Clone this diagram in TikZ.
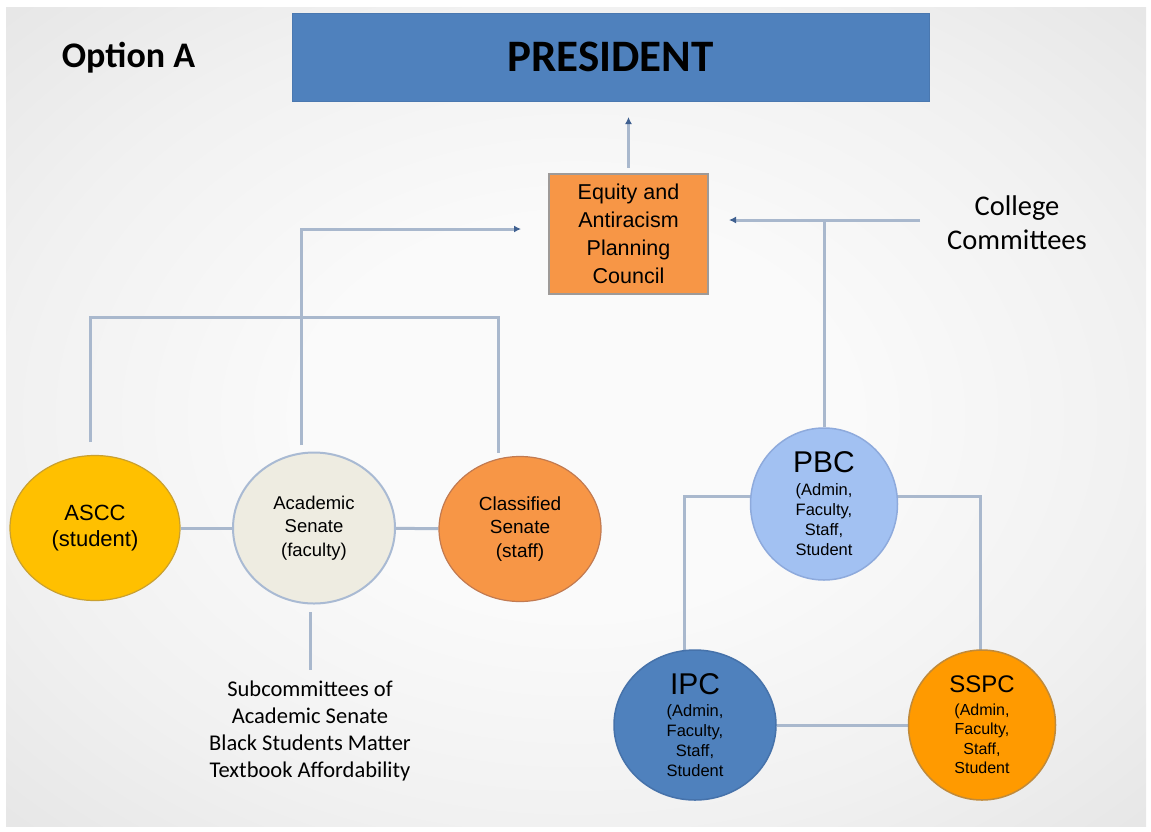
\documentclass[tikz,border=0pt]{standalone}
\usepackage{fontspec}
\setmainfont{Liberation Sans}
\newfontfamily\calibri{Carlito}
\usetikzlibrary{shapes.geometric,arrows.meta}

\definecolor{presblue}{HTML}{4F81BD}
\definecolor{presedge}{HTML}{4A78B0}
\definecolor{eapcfill}{HTML}{F79646}
\definecolor{boxedge}{HTML}{9E9A98}
\definecolor{asccfill}{HTML}{FFC000}
\definecolor{asccedge}{HTML}{C9A030}
\definecolor{acadfill}{HTML}{EEECE1}
\definecolor{acadedge}{HTML}{A9BAD3}
\definecolor{clsedge}{HTML}{C27A50}
\definecolor{pbcfill}{HTML}{A2C1F2}
\definecolor{pbcedge}{HTML}{8EAADC}
\definecolor{ipcedge}{HTML}{4672AA}
\definecolor{sspcfill}{HTML}{FF9A00}
\definecolor{sspcedge}{HTML}{C08A3A}
\definecolor{linecol}{HTML}{A9B8CD}
\definecolor{tipcol}{HTML}{3F6090}
\definecolor{bgin}{HTML}{FAFAFA}
\definecolor{bgmid}{HTML}{F1F1F1}
\definecolor{bgout}{HTML}{E6E6E6}

\pgfdeclareradialshading{paper}{\pgfpoint{0bp}{0bp}}{%
  color(0bp)=(bgin); color(12bp)=(bgin); color(25bp)=(bgmid);
  color(36bp)=(bgout); color(50bp)=(bgout)}

\pgfdeclarelayer{back}
\pgfdeclarelayer{wires}
\pgfsetlayers{back,wires,main}

\tikzset{
  conn/.style={draw=linecol, line width=3pt},
  arr/.style={conn, -{Latex[length=7pt,width=7pt,color=tipcol]}},
  unit/.style={ellipse, inner sep=0pt, align=center, text=black},
  plain/.style={inner sep=0pt, align=center, text=black},
}

\begin{document}
\begin{tikzpicture}[x=1pt,y=-1pt]
\useasboundingbox (0,0) rectangle (1151,831);

% boxes
\node[fill=presblue, draw=presedge, line width=1pt, minimum width=637pt,
      minimum height=88pt, inner sep=0pt,
      font=\calibri\bfseries\fontsize{45}{45}\selectfont] (pres) at (610.5,57) {PRESIDENT};
\node[plain, anchor=base, font=\calibri\bfseries\fontsize{36}{36}\selectfont]
      (opt) at (128.5,67) {Option A};
\node[fill=eapcfill, draw=boxedge, line width=2.5pt, minimum width=159pt,
      minimum height=120pt, inner sep=0pt, align=center,
      font=\fontsize{21.5}{28}\selectfont] (eapc) at (628.5,234)
      {Equity and\\Antiracism\\Planning\\Council};
\node[plain, font=\calibri\fontsize{28.5}{34}\selectfont] (college) at (1017,223)
      {College\\Committees};

% senates
\node[unit, fill=asccfill, draw=asccedge, line width=1.2pt, minimum width=170pt,
      minimum height=145pt, font=\fontsize{22}{26}\selectfont] (ascc) at (95,528)
      {ASCC\\(student)};
\node[unit, fill=acadfill, draw=acadedge, line width=2pt, minimum width=162pt,
      minimum height=151pt, font=\fontsize{18.5}{23.5}\selectfont] (acad) at (314,528)
      {Academic\\Senate\\(faculty)};
\node[unit, fill=eapcfill, draw=clsedge, line width=1.2pt, minimum width=162pt,
      minimum height=145pt, font=\fontsize{19}{23.5}\selectfont] (cls) at (520,529)
      {Classified\\Senate\\(staff)};
\node[plain, font=\calibri\fontsize{22.5}{27}\selectfont] (subs) at (310,731)
      {Subcommittees of\\Academic Senate\\Black Students Matter\\Textbook Affordability};

% planning committees
\node[unit, fill=pbcfill, draw=pbcedge, line width=1.5pt, minimum width=147pt,
      minimum height=152pt, font=\fontsize{16.5}{20}\selectfont] (pbc) at (824,504)
      {{\fontsize{30}{30}\selectfont PBC}\\[3pt](Admin,\\Faculty,\\Staff,\\Student};
\node[unit, fill=presblue, draw=ipcedge, line width=1.5pt, minimum width=162pt,
      minimum height=150pt, font=\fontsize{16.5}{20}\selectfont] (ipc) at (695,725)
      {{\fontsize{30}{30}\selectfont IPC}\\[2pt](Admin,\\Faculty,\\Staff,\\Student};
\node[unit, fill=sspcfill, draw=sspcedge, line width=1.5pt, minimum width=147pt,
      minimum height=150pt, font=\fontsize{16}{19.5}\selectfont] (sspc) at (982,725)
      {{\fontsize{24}{24}\selectfont SSPC}\\[3pt](Admin,\\Faculty,\\Staff,\\Student};

% connector end points
\coordinate (presin)   at (628.5,117);
\coordinate (acadup)   at (301,445);
\coordinate (eapcleft) at (521,229);
\coordinate (asccup)   at (90,442);
\coordinate (clsup)    at (498,453);
\coordinate (bar)      at (0,317);
\coordinate (subtop)   at (310,612);
\coordinate (subbot)   at (310,670);
\coordinate (collout)  at (920,220);
\coordinate (eapcright) at (729,220);
\coordinate (pbcrow)   at (0,496);
\coordinate (ipcin)    at (684,651);
\coordinate (sspcin)   at (980,651);

\begin{pgfonlayer}{back}
  \shade[shading=paper] (6,7) rectangle (1146,826);
\end{pgfonlayer}

\begin{pgfonlayer}{wires}
  \draw[arr] ([yshift=5pt]eapc.north) -- (presin);
  \draw[arr] (acadup) |- (eapcleft);
  \draw[conn] (asccup) -- (asccup |- bar) -- (clsup |- bar) -- (clsup);
  \draw[conn] (ascc) -- (acad);
  \draw[conn] (acad) -- (cls);
  \draw[conn] (subtop) -- (subbot);
  \draw[arr] (collout) -- (eapcright);
  \draw[conn] (pbc.north) -- (pbc.north |- eapcright);
  \draw[conn] (pbc.center |- pbcrow) -| (ipcin);
  \draw[conn] (pbc.center |- pbcrow) -| (sspcin);
  \draw[conn] (ipc) -- (sspc);
\end{pgfonlayer}
\end{tikzpicture}
\end{document}
